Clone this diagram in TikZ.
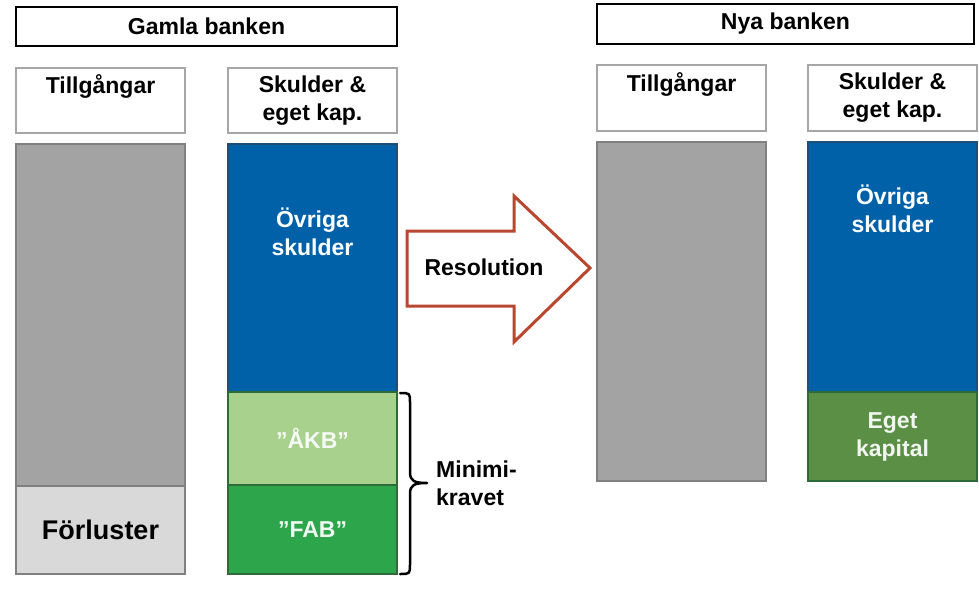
\documentclass[tikz,border=0pt]{standalone}
\usepackage{fontspec}
\setmainfont{Liberation Sans}
\definecolor{darkgr}{HTML}{A3A3A3}
\definecolor{lightgr}{HTML}{D9D9D9}
\definecolor{grline}{HTML}{808080}
\definecolor{hdrline}{HTML}{A6A6A6}
\definecolor{bankblue}{HTML}{0061A9}
\definecolor{blueline}{HTML}{1F4E79}
\definecolor{akbgreen}{HTML}{A9D18E}
\definecolor{fabgreen}{HTML}{2DA64B}
\definecolor{greenline}{HTML}{2E6B3A}
\definecolor{ekgreen}{HTML}{5B8F46}
\definecolor{arrowred}{HTML}{B9472F}
\begin{document}
\begin{tikzpicture}[x=1pt,y=-1pt,
  txt/.style={font=\bfseries\fontsize{23}{28}\selectfont, align=center, inner sep=0pt},
  titlebox/.style={draw=black, line width=2pt, fill=white, inner sep=0pt, outer sep=0pt},
  hdrbox/.style={draw=hdrline, line width=2pt, fill=white, inner sep=0pt, outer sep=0pt, minimum width=169pt},
  bar/.style={line width=1.8pt, inner sep=0pt, outer sep=0pt, minimum width=169pt}]
\useasboundingbox (0,0) rectangle (979,591);
% ---- old bank ----
\node[titlebox, minimum width=381pt, minimum height=39pt, txt] (gamla) at (206.5,26.5) {Gamla banken};
\node[hdrbox, minimum height=65pt] (t1box) at (100.5,100.5) {};
\node[txt] (t1) at (100.5,86) {Tillgångar};
\node[hdrbox, minimum height=65pt, txt] (s1box) at (312.5,100.5) {Skulder \&\\eget kap.};
\node[bar, draw=grline, fill=darkgr, minimum height=342pt] (gray1) at (100.5,315) {};
\node[bar, draw=grline, fill=lightgr, minimum height=88pt, font=\bfseries\fontsize{27}{30}\selectfont] (forl) at (100.5,530) {Förluster};
\node[bar, draw=blueline, fill=bankblue, minimum height=248pt] (blue1) at (312.5,268) {};
\node[txt, text=white] (ov1) at (312.5,232) {Övriga\\skulder};
\node[bar, draw=greenline, fill=akbgreen, minimum height=93pt, txt, text={white!90!akbgreen}] (akb) at (312.5,438.5) {”ÅKB”};
\node[bar, draw=greenline, fill=fabgreen, minimum height=89pt, txt, text={white!92!fabgreen}] (fab) at (312.5,529.5) {”FAB”};
% brace
\coordinate (bt) at (400,393);
\coordinate (btip) at (427,483);
\coordinate (bb) at (400,574);
\draw[line width=2.5pt, line cap=round, line join=round]
  (bt) .. controls (410,393) .. (410,403) -- (410,472)
  .. controls (410,481) and (414,483) .. (btip)
  .. controls (414,483) and (410,485) .. (410,494) -- (410,564)
  .. controls (410,574) .. (bb);
\node[txt, anchor=west, align=left] (minimi) at (436,483) {Minimi-\\kravet};
% ---- arrow ----
\draw[arrowred, line width=3pt, line join=miter, fill=white] (407,231) -- (514,231) -- (514,196) -- (590,268) -- (514,342) -- (514,306) -- (407,306) -- cycle;
\node[txt] (resol) at (484,267) {Resolution};
% ---- new bank ----
\node[titlebox, minimum width=377pt, minimum height=40pt, txt] (nya) at (785.5,24) {Nya banken};
\node[hdrbox, minimum height=66pt] (t2box) at (681.5,98) {};
\node[txt] (t2) at (681.5,84) {Tillgångar};
\node[hdrbox, minimum height=66pt, txt] (s2box) at (892.5,98) {Skulder \&\\eget kap.};
\node[bar, draw=grline, fill=darkgr, minimum height=339pt] (gray2) at (681.5,311.5) {};
\node[bar, draw=blueline, fill=bankblue, minimum height=250pt] (blue2) at (892.5,267) {};
\node[txt, text=white] (ov2) at (892.5,209) {Övriga\\skulder};
\node[bar, draw=greenline, fill=ekgreen, minimum height=89pt, txt, text={white!92!ekgreen}] (ek) at (892.5,436.5) {Eget\\kapital};
\end{tikzpicture}
\end{document}
